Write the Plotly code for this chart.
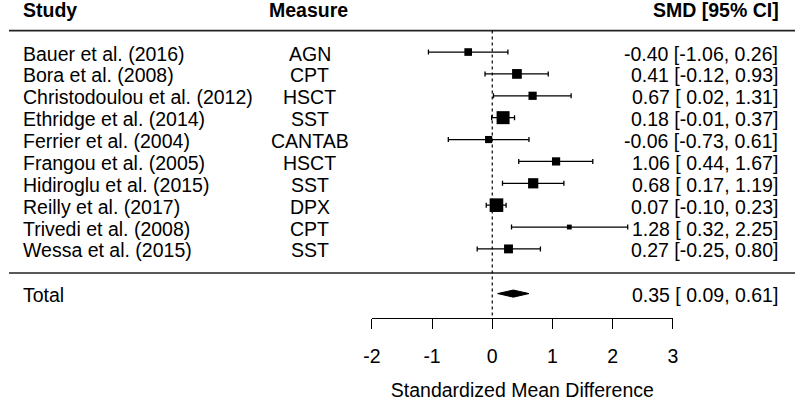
import plotly.graph_objects as go

studies = ["Bauer et al. (2016)", "Bora et al. (2008)", "Christodoulou et al. (2012)",
           "Ethridge et al. (2014)", "Ferrier et al. (2004)", "Frangou et al. (2005)",
           "Hidiroglu et al. (2015)", "Reilly et al. (2017)", "Trivedi et al. (2008)",
           "Wessa et al. (2015)"]
measures = ["AGN", "CPT", "HSCT", "SST", "CANTAB", "HSCT", "SST", "DPX", "CPT", "SST"]
smd = [-0.40, 0.41, 0.67, 0.18, -0.06, 1.06, 0.68, 0.07, 1.28, 0.27]
ci_low = [-1.06, -0.12, 0.02, -0.01, -0.73, 0.44, 0.17, -0.10, 0.32, -0.25]
ci_high = [0.26, 0.93, 1.31, 0.37, 0.61, 1.67, 1.19, 0.23, 2.25, 0.80]
weights = [6.5, 10.5, 7.5, 18.8, 5.7, 7.5, 11.6, 20.6, 2.6, 8.8]
total_label = "Total"
total_smd, total_low, total_high = 0.35, 0.09, 0.61
x_ticks = [-2, -1, 0, 1, 2, 3]
x_title = "Standardized Mean Difference"
headers = ["Study", "Measure", "SMD [95% CI]"]

W, H = 800, 401
FONT = "Arial, Liberation Sans, sans-serif"
FS = 19.5
row0, row_step = 52.7, 22.15
rows_y = [row0 + i * row_step for i in range(len(studies))]
total_y = 297.3
axis_y = 321.7
header_y = 10
hline1, hline2 = 31, 276.5

fig = go.Figure()

# study estimates
fig.add_trace(go.Scatter(
    x=smd, y=rows_y, mode="markers",
    marker=dict(symbol="square", size=[3.0 * w ** 0.5 for w in weights],
                color="#000000", opacity=1, line=dict(width=0)),
    error_x=dict(type="data", symmetric=False,
                 array=[h - e for h, e in zip(ci_high, smd)],
                 arrayminus=[e - l for e, l in zip(smd, ci_low)],
                 color="black", thickness=1.3, width=2.5),
    cliponaxis=False, hoverinfo="skip", showlegend=False))

# summary diamond
dh = 3.6
fig.add_trace(go.Scatter(
    x=[total_low, total_smd, total_high, total_smd, total_low],
    y=[total_y, total_y - dh, total_y, total_y + dh, total_y],
    mode="lines", fill="toself", fillcolor="black",
    line=dict(color="black", width=1), hoverinfo="skip", showlegend=False))

shapes = [
    dict(type="line", xref="paper", yref="y", x0=0, x1=1, y0=hline1, y1=hline1,
         line=dict(color="#222", width=1.6)),
    dict(type="line", xref="paper", yref="y", x0=0, x1=1, y0=hline2, y1=hline2,
         line=dict(color="#222", width=1.6)),
    dict(type="line", xref="x", yref="y", x0=0, x1=0, y0=hline1, y1=axis_y,
         line=dict(color="black", width=1.2, dash="dot")),
]

ann = []
def txt(x, y, s, anchor, bold=False):
    ann.append(dict(x=x / W, y=y, xref="paper", yref="y", text=f"<b>{s}</b>" if bold else s,
                    xanchor=anchor, yanchor="middle", showarrow=False,
                    font=dict(family=FONT, size=FS, color="black")))

def ci_text(e, l, h):
    return f"{e:.2f} [{l:5.2f}, {h:.2f}]".replace("[ ", "[&nbsp;")

txt(12, header_y, headers[0], "left", True)
txt(305, header_y, headers[1], "center", True)
txt(786, header_y, headers[2], "right", True)
for i in range(len(studies)):
    y = rows_y[i] + 1.5
    txt(12, y, studies[i], "left")
    txt(306, y, measures[i], "center")
    txt(785, y, ci_text(smd[i], ci_low[i], ci_high[i]), "right")
txt(12, total_y + 1.5, total_label, "left")
txt(785, total_y + 1.5, ci_text(total_smd, total_low, total_high), "right")

fig.update_layout(
    width=W, height=H, margin=dict(l=0, r=0, t=0, b=0),
    paper_bgcolor="white", plot_bgcolor="white",
    shapes=shapes, annotations=ann,
    font=dict(family=FONT, size=FS, color="black"),
    xaxis=dict(domain=[369.3 / W, 675.7 / W], range=[-2, 3], tickvals=x_ticks,
               ticktext=[str(t) for t in x_ticks],
               showline=True, linecolor="black", linewidth=1.2,
               ticks="outside", ticklen=10, tickwidth=1.2, tickcolor="black",
               showgrid=False, zeroline=False, ticklabelstandoff=11,
               tickfont=dict(family=FONT, size=FS, color="black"),
               title=dict(text=x_title, standoff=20,
                          font=dict(family=FONT, size=FS, color="black"))),
    yaxis=dict(domain=[(H - axis_y) / H, 1], range=[axis_y, 0], visible=False),
)

fig.write_html("out.html", config={"displayModeBar": False},
               post_script="document.body.style.margin='0';document.body.style.overflow='hidden';")
